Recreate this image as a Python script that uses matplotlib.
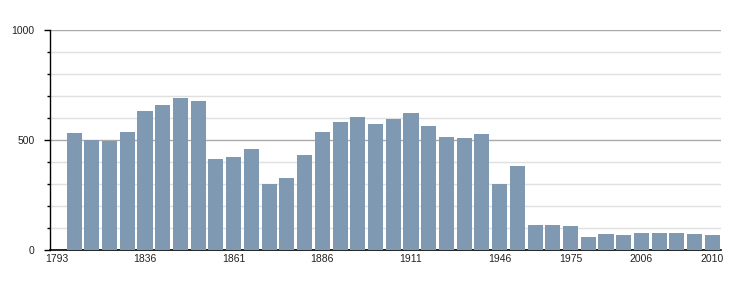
import matplotlib.pyplot as plt
from matplotlib import font_manager
from matplotlib.ticker import MultipleLocator

# census years; 1793 has no figure, so its slot stays empty
years = [1793, 1800, 1806, 1821, 1831, 1836, 1841, 1846, 1851, 1856,
         1861, 1866, 1872, 1876, 1881, 1886, 1891, 1896, 1901, 1906,
         1911, 1921, 1926, 1931, 1936, 1946, 1954, 1962, 1968, 1975,
         1982, 1990, 1999, 2006, 2007, 2008, 2009, 2010]
population = [0, 533, 500, 498, 537, 634, 660, 692, 680, 414,
              423, 460, 300, 328, 432, 537, 583, 605, 574, 596,
              624, 564, 514, 510, 528, 300, 382, 114, 114, 109,
              59, 73, 68, 77, 77, 77, 73, 68]
label_years = [1793, 1836, 1861, 1886, 1911, 1946, 1975, 2006, 2010]

# pick the regular (not narrow) Liberation Sans file
regular = [f.fname for f in font_manager.fontManager.ttflist
           if f.fname.endswith('LiberationSans-Regular.ttf')]
if regular:
    font = font_manager.FontProperties(fname=regular[0], size=7.5)
else:
    font = font_manager.FontProperties(family='DejaVu Sans', size=7)

fig = plt.figure(figsize=(7.5, 3), dpi=100)
ax = fig.add_axes([50 / 750, 50 / 300, 670.7 / 750, 219.7 / 300])

x = list(range(len(years)))
ax.bar(x, population, width=0.85, color='#7f99b2', zorder=3)

ax.set_ylim(0, 1000)
ax.set_xlim(-0.36, 37.47)
ax.yaxis.set_major_locator(MultipleLocator(500))
ax.yaxis.set_minor_locator(MultipleLocator(100))
ax.grid(which='minor', axis='y', color='#e0e0e0', linewidth=1, zorder=0)
ax.grid(which='major', axis='y', color='#aaaaaa', linewidth=1, zorder=1)

ax.set_xticks([years.index(y) for y in label_years])
ax.set_xticklabels([str(y) for y in label_years], fontproperties=font)
ax.set_yticks([0, 500, 1000])
ax.set_yticklabels(['0', '500', '1000'], fontproperties=font)

for s in ('top', 'right'):
    ax.spines[s].set_visible(False)
ax.spines['left'].set_linewidth(1)
ax.spines['bottom'].set_linewidth(1.2)
ax.tick_params(axis='x', length=0, pad=3, labelcolor='#222222')
ax.tick_params(axis='y', which='major', length=4, width=1, pad=7,
               labelcolor='#222222')
ax.tick_params(axis='y', which='minor', length=2, width=1)

fig.savefig('out.png', dpi=100)
